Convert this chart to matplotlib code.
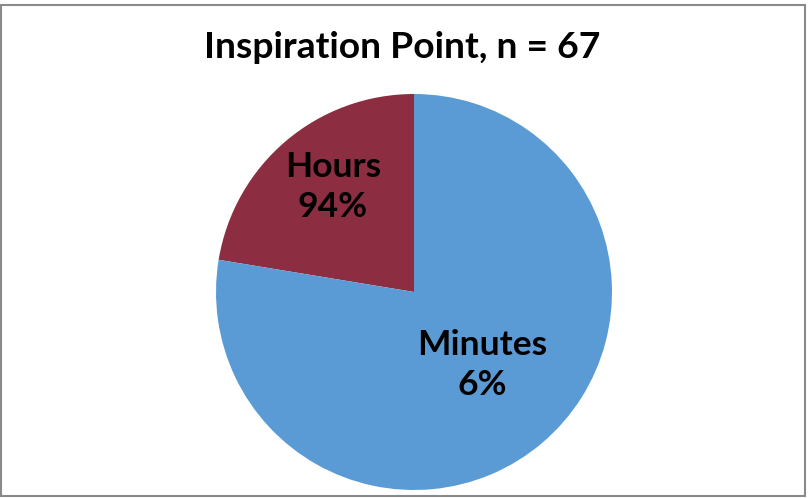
import matplotlib
matplotlib.use("Agg")
import matplotlib.pyplot as plt
from matplotlib.patches import Rectangle

title = "Inspiration Point, n = 67"
categories = ["Hours", "Minutes"]
shares = [22.4, 77.6]          # slice sizes as drawn
pct_labels = ["94%", "6%"]     # printed labels as in the original
colors = ["#8C2D41", "#5B9BD5"]

plt.rcParams["font.family"] = ["Lato", "DejaVu Sans"]

W, H = 808, 498
fig = plt.figure(figsize=(W / 100, H / 100), dpi=100)

# pie centre and radius in pixels
cx, cy, r = 414, 292, 198
ax = fig.add_axes([(cx - r) / W, (H - cy - r) / H, 2 * r / W, 2 * r / H])
ax.pie(shares, colors=colors, startangle=90, counterclock=True,
       wedgeprops=dict(linewidth=0))
ax.set_xlim(-1, 1)
ax.set_ylim(-1, 1)
ax.set_aspect("equal")
ax.axis("off")

label_pos = [(-0.41, 0.53), (0.345, -0.37)]
for cat, pct, (x, y) in zip(categories, pct_labels, label_pos):
    ax.text(x, y, f"{cat}\n{pct}", ha="center", va="center", fontsize=25.5,
            fontweight="bold", linespacing=1.3, color="black")

fig.text(402 / W, 1 - 47 / H, title, ha="center", va="center",
         fontsize=26.8, fontweight="bold")

# outer chart frame
fig.patches.append(Rectangle((1 / W, 1 - 496 / H), 804 / W, 491 / H,
                             transform=fig.transFigure, fill=False,
                             edgecolor="#8a8a8a", linewidth=1.5))

fig.savefig("out.png", dpi=100, facecolor="white")
